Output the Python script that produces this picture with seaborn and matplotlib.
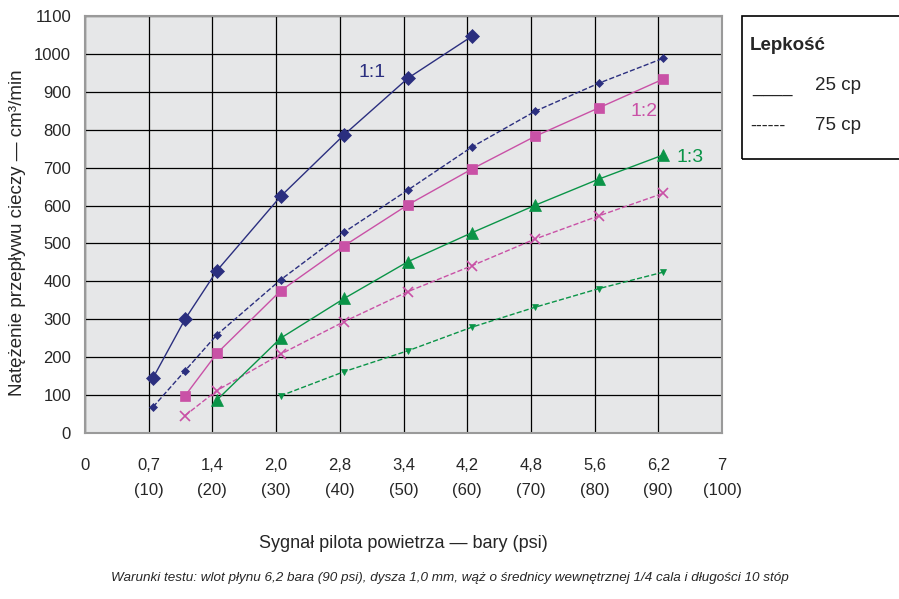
import pandas as pd
import matplotlib.pyplot as plt
import seaborn as sns
from matplotlib.patches import Rectangle

# x values in psi (pilot signal)
psi_all = [10.7, 15.7, 20.7, 30.7, 40.7, 50.7, 60.7, 70.7, 80.7, 90.7]

# 1:1 ratio
x_11_25 = [10.7, 15.7, 20.7, 30.7, 40.7, 50.7, 60.7]
y_11_25 = [146, 300, 428, 624, 787, 936, 1046]
x_11_75 = psi_all
y_11_75 = [69, 164, 259, 404, 530, 641, 754, 849, 923, 988]

# 1:2 ratio
x_12_25 = psi_all[1:]
y_12_25 = [98, 210, 375, 494, 602, 696, 783, 858, 933]
x_12_75 = psi_all[1:]
y_12_75 = [46, 112, 208, 294, 373, 441, 512, 573, 632]

# 1:3 ratio
x_13_25 = psi_all[2:]
y_13_25 = [87, 250, 355, 452, 528, 601, 670, 733]
x_13_75 = psi_all[3:]
y_13_75 = [98, 162, 217, 279, 332, 381, 424]

# tick labels
tick_pos = [0, 10, 20, 30, 40, 50, 60, 70, 80, 90, 100]
tick_bar = ['0', '0,7', '1,4', '2,0', '2,8', '3,4', '4,2', '4,8', '5,6', '6,2', '7']
tick_psi = ['', '(10)', '(20)', '(30)', '(40)', '(50)', '(60)', '(70)', '(80)', '(90)', '(100)']

navy = '#2b2f7f'
pink = '#c951a6'
green = '#0a9447'

sns.set_style('white')
plt.rcParams['font.family'] = ['Liberation Sans Narrow', 'Liberation Sans', 'DejaVu Sans']

fig = plt.figure(figsize=(8.99, 5.99), dpi=100)
ax = fig.add_axes([85 / 899, 1 - 433 / 599, (722 - 85) / 899, (433 - 16) / 599])
ax.set_facecolor('#e6e7e8')

series = [
    (x_11_25, y_11_25, navy, '-', 'D', 7),
    (x_11_75, y_11_75, navy, '--', 'D', 4),
    (x_12_25, y_12_25, pink, '-', 's', 6.5),
    (x_12_75, y_12_75, pink, '--', 'x', 6.5),
    (x_13_25, y_13_25, green, '-', '^', 8),
    (x_13_75, y_13_75, green, '--', 'v', 4.5),
]
for xs, ys, col, ls, mk, ms in series:
    df = pd.DataFrame({'psi': xs, 'flow': ys})
    sns.lineplot(data=df, x='psi', y='flow', ax=ax, color=col, linestyle=ls,
                 linewidth=1.0, marker=mk, markersize=ms, markeredgecolor=col,
                 markeredgewidth=1.2 if mk == 'x' else 0.5, zorder=3)

ax.set_xlim(0, 100)
ax.set_ylim(0, 1100)
ax.set_yticks(range(0, 1101, 100))
ax.set_xticks(tick_pos)
ax.set_xticklabels([f'{b}\n{p}' if p else b for b, p in zip(tick_bar, tick_psi)],
                   linespacing=1.85, va='top')
ax.grid(True, color='black', linewidth=0.9)
ax.set_axisbelow(True)
for s in ax.spines.values():
    s.set_color('#9a9a9a')
    s.set_linewidth(1.5)
ax.tick_params(axis='both', labelsize=12, length=4, color='#555555', direction='out')
ax.tick_params(axis='x', pad=14)
ax.tick_params(axis='y', pad=6)
ax.set_xlabel('Sygnał pilota powietrza — bary (psi)', fontsize=13)
ax.xaxis.set_label_coords(0.5, -(543 - 433) / 417, transform=ax.transAxes)
ax.xaxis.label.set_va('center')
ax.set_ylabel('Natężenie przepływu cieczy — cm³/min', fontsize=13.5)
ax.yaxis.set_label_coords(-(85 - 18) / 637, 0.48)
ax.yaxis.label.set_va('center')

ax.text(43, 950, '1:1', color=navy, fontsize=14, va='center')
ax.text(85.6, 847, '1:2', color=pink, fontsize=14, va='center')
ax.text(92.9, 728, '1:3', color=green, fontsize=14, va='center')

fig.text(450 / 899, 1 - 578 / 599,
         'Warunki testu: wlot płynu 6,2 bara (90 psi), dysza 1,0 mm, wąż o średnicy wewnętrznej 1/4 cala i długości 10 stóp',
         fontsize=9.7, style='italic', ha='center', va='center')

# legend box
fig.patches.append(Rectangle((742 / 899, 1 - 159 / 599), 0.3, (159 - 16) / 599,
                             transform=fig.transFigure, fill=False,
                             edgecolor='black', linewidth=1.2))
fig.text(750 / 899, 1 - 45 / 599, 'Lepkość', fontsize=13.5, weight='bold', va='center')
fig.text(752 / 899, 1 - 87 / 599, '____', fontsize=13, va='center')
fig.text(815 / 899, 1 - 86 / 599, '25 cp', fontsize=13.5, va='center')
fig.text(750 / 899, 1 - 126 / 599, '------', fontsize=13, va='center')
fig.text(815 / 899, 1 - 126 / 599, '75 cp', fontsize=13.5, va='center')

fig.savefig('out.png', dpi=100)
